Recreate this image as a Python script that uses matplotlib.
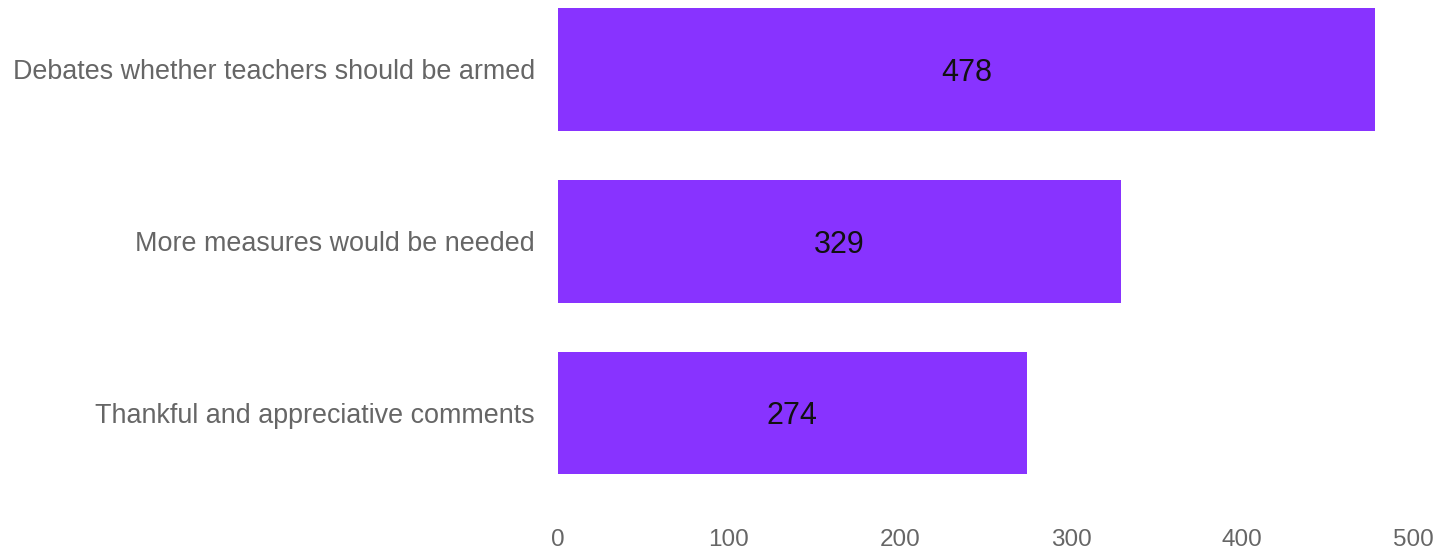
import matplotlib
matplotlib.use("Agg")
import matplotlib.pyplot as plt

categories = [
    "Debates whether teachers should be armed",
    "More measures would be needed",
    "Thankful and appreciative comments",
]
counts = [478, 329, 274]
x_ticks = [0, 100, 200, 300, 400, 500]

plt.rcParams["font.family"] = ["Liberation Sans", "DejaVu Sans"]

fig = plt.figure(figsize=(14.41, 5.51), dpi=100)
ax = fig.add_axes([558 / 1441, 1 - 515 / 551, (1413 - 558) / 1441, 515 / 551])

positions = list(range(len(categories)))
bars = ax.barh(positions, counts, height=0.715, color="#8833FF")
for bar, v in zip(bars, counts):
    ax.text(v / 2, bar.get_y() + bar.get_height() / 2, str(v),
            ha="center", va="center_baseline", fontsize=22, color="#111111")

ax.set_xlim(0, 500)
ax.set_ylim(2.594, -0.404)
ax.set_xticks(x_ticks)
ax.set_xticklabels([str(t) for t in x_ticks])
ax.set_yticks(positions)
ax.set_yticklabels(categories, fontsize=19.4)

for s in ax.spines.values():
    s.set_visible(False)
ax.tick_params(axis="both", length=0, colors="#666666")
ax.tick_params(axis="x", labelsize=17.5, pad=10)
ax.tick_params(axis="y", pad=16.5)

fig.savefig("out.png", dpi=100, facecolor="white")
